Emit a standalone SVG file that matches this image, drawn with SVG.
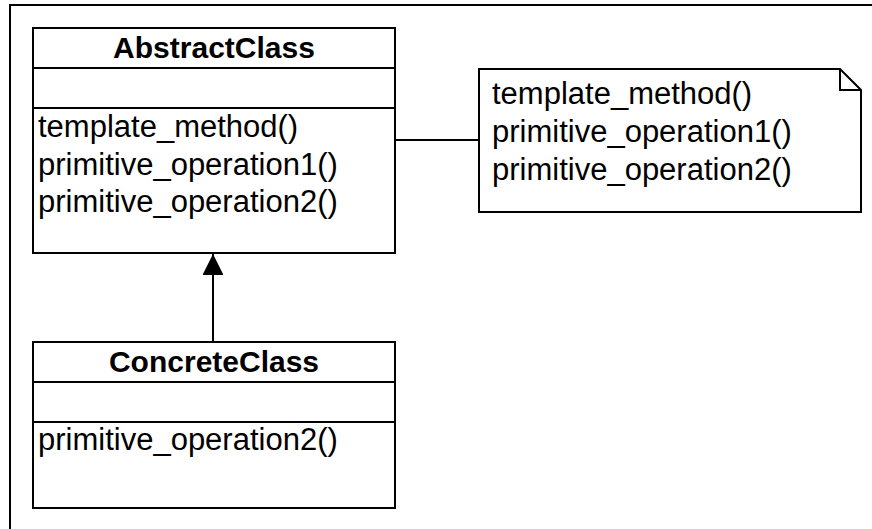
<svg xmlns="http://www.w3.org/2000/svg" width="872" height="529" viewBox="0 0 872 529">
<style>
.box{fill:#fff;stroke:#000;stroke-width:2}
.ln{fill:none;stroke:#000;stroke-width:2}
.t{font-family:"Liberation Sans",Arial,sans-serif;font-size:31px;fill:#000}
.b{font-weight:bold;font-size:30px;text-anchor:middle}
</style>
<defs>
<marker id="tri" markerUnits="userSpaceOnUse" markerWidth="22" markerHeight="20" refX="21" refY="10.5" orient="auto">
<path d="M0,0 L21,10.5 L0,21 Z" fill="#000"/>
</marker>
</defs>
<rect width="872" height="529" fill="#fff"/>
<g id="frame">
<path class="ln" d="M10,530 L10,5 L873,5"/>
</g>
<g id="connectors">
<line class="ln" x1="395" y1="140" x2="479" y2="140"/>
<line class="ln" x1="213" y1="342" x2="213" y2="254" marker-end="url(#tri)"/>
</g>
<g id="abstract">
<rect class="box" x="33" y="28" width="362" height="225"/>
<line class="ln" x1="33" y1="68" x2="395" y2="68"/>
<line class="ln" x1="33" y1="108" x2="395" y2="108"/>
<text class="t b" x="214" y="58">AbstractClass</text>
<text class="t" x="38" y="137">template_method()</text>
<text class="t" x="38" y="174.5">primitive_operation1()</text>
<text class="t" x="38" y="212">primitive_operation2()</text>
</g>
<g id="concrete">
<rect class="box" x="33" y="342" width="362" height="166"/>
<line class="ln" x1="33" y1="382" x2="395" y2="382"/>
<line class="ln" x1="33" y1="422" x2="395" y2="422"/>
<text class="t b" x="214" y="372">ConcreteClass</text>
<text class="t" x="38" y="450">primitive_operation2()</text>
</g>
<g id="note">
<path class="box" d="M479,69 L840,69 L861,90 L861,212 L479,212 Z"/>
<path class="ln" d="M840,69 L840,90 L861,90"/>
<text class="t" x="492" y="104">template_method()</text>
<text class="t" x="492" y="142">primitive_operation1()</text>
<text class="t" x="492" y="180">primitive_operation2()</text>
</g>
</svg>
